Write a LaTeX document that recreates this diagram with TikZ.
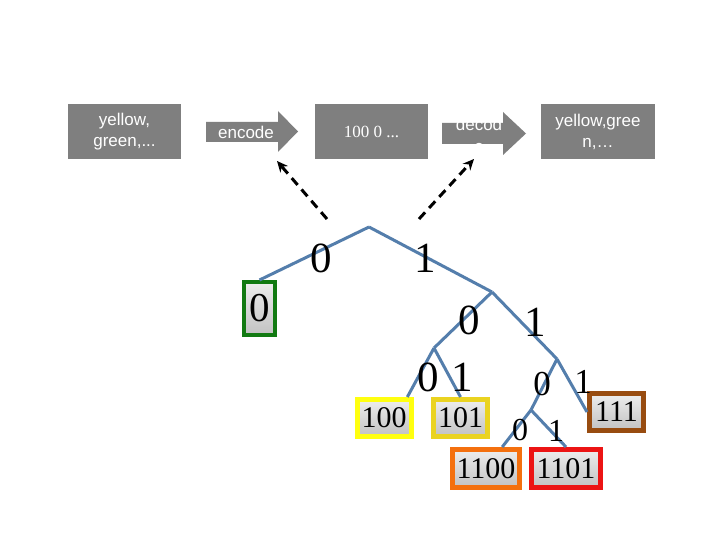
\documentclass[tikz,border=0pt]{standalone}
\usepackage{fontspec}
\setmainfont{Liberation Serif}
\setsansfont{Liberation Sans}
\usetikzlibrary{arrows.meta}
\definecolor{boxgrey}{HTML}{7F7F7F}
\definecolor{treeblue}{RGB}{84,126,172}
\definecolor{leafgreen}{HTML}{127A12}
\definecolor{leafyellow}{HTML}{FFFF10}
\definecolor{leafgold}{HTML}{EAD320}
\definecolor{leafbrown}{HTML}{984C10}
\definecolor{leaforange}{HTML}{F4700E}
\definecolor{leafred}{HTML}{EC1414}
\tikzset{
  topbox/.style={fill=boxgrey, draw=none, text=white, align=center, inner sep=0pt,
    minimum height=55pt, font=\sffamily\fontsize{17}{21}\selectfont},
  arrowshape/.style={fill=boxgrey, draw=none},
  arrowtext/.style={text=white, align=center, inner sep=0pt, font=\sffamily\fontsize{17}{22}\selectfont},
  treeline/.style={draw=treeblue, line width=3pt},
  leafbox/.style={line width=5pt, top color=white!93!black, bottom color=white!76!black,
    inner sep=0pt, font=\fontsize{30}{31}\selectfont, minimum width=54pt, minimum height=37pt},
  biglabel/.style={inner sep=0pt, font=\fontsize{43}{45}\selectfont},
  midlabel/.style={inner sep=0pt, font=\fontsize{35}{37}\selectfont},
  smalllabel/.style={inner sep=0pt, font=\fontsize{32}{34}\selectfont},
  dasharrow/.style={line width=3pt, dash pattern=on 9pt off 6pt, -{Stealth[length=11pt,width=10pt]}}
}
\begin{document}
\begin{tikzpicture}[x=1pt,y=-1pt]
\useasboundingbox (0,0) rectangle (720,540);
\fill[white] (0,0) rectangle (720,540);

% top row
\node[topbox, minimum width=113pt] (in) at (124.5,131.5) {yellow,\\green,...};
\fill[arrowshape] (206,122) -- (278,122) -- (278,111) -- (298,131.5) -- (278,152) -- (278,142) -- (206,142) -- cycle;
\node[arrowtext] (enc) at (246,132) {encode};
\node[topbox, minimum width=113pt, font=\rmfamily\fontsize{17}{21}\selectfont] (code) at (371.5,131.5) {100 0 ...};
\fill[arrowshape] (442,123) -- (503,123) -- (503,112) -- (526,133.5) -- (503,155) -- (503,144) -- (442,144) -- cycle;
\node[arrowtext] (dec) at (479,135) {decod\\e};
\node[topbox, minimum width=114pt] (out) at (598,131.5) {yellow,gree\\n,…};

% dashed arrows
\coordinate (dsL) at (327,219);
\coordinate (deL) at (277,161);
\coordinate (dsR) at (419,219);
\coordinate (deR) at (474,159);
\draw[dasharrow] (dsL) -- (deL);
\draw[dasharrow] (dsR) -- (deR);

% tree internal points
\coordinate (r) at (369,227);
\coordinate (a) at (492,292);
\coordinate (b) at (434,348);
\coordinate (c) at (557,359);
\coordinate (d) at (531,410);

% leaves
\node[leafbox, draw=leafgreen, line width=4pt, minimum width=31pt, minimum height=53pt,
  font=\fontsize{41}{43}\selectfont] (g0) at (259.5,308.5) {0};
\node[leafbox, draw=leafyellow] (b100) at (384,418) {100};
\node[leafbox, draw=leafgold] (b101) at (460.5,418) {101};
\node[leafbox, draw=leafbrown] (b111) at (616.5,412) {111};
\node[leafbox, draw=leaforange, minimum width=67pt, minimum height=38pt] (b1100) at (486,468.5) {1100};
\node[leafbox, draw=leafred, minimum width=69pt, minimum height=38pt] (b1101) at (566,468.5) {1101};

% tree edges
\draw[treeline] (r) -- (g0.north);
\draw[treeline] (r) -- (a);
\draw[treeline] (a) -- (b);
\draw[treeline] (a) -- (c);
\draw[treeline] (b) -- (b100.42);
\draw[treeline] (b) -- (b101.north);
\draw[treeline] (c) -- (d);
\draw[treeline] (c) -- (b111.west);
\draw[treeline] (d) -- (b1100.53);
\draw[treeline] (d) -- (b1101.north);

% edge labels
\node[biglabel] (l0) at (321,258) {0};
\node[biglabel] (l1) at (425,258) {1};
\node[biglabel] (l10) at (469,320) {0};
\node[biglabel] (l11) at (535,322) {1};
\node[biglabel] (l100) at (428,377) {0};
\node[biglabel] (l101) at (462,377) {1};
\node[midlabel] (l110) at (542,384) {0};
\node[midlabel] (l111) at (583,382) {1};
\node[smalllabel] (l1100) at (520,430) {0};
\node[smalllabel] (l1101) at (556,431) {1};
\end{tikzpicture}
\end{document}
